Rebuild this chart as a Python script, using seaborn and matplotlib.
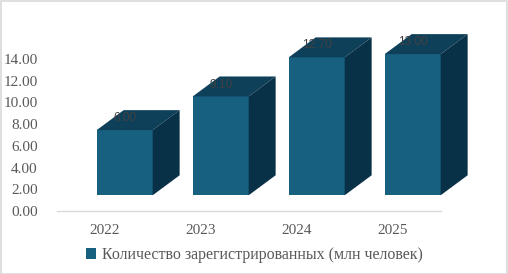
import seaborn as sns
import pandas as pd
import matplotlib.pyplot as plt
from matplotlib.patches import Polygon, Patch, Rectangle

# Data
years = ['2022', '2023', '2024', '2025']
registered = [6.00, 9.10, 12.70, 13.00]
series_name = 'Количество зарегистрированных (млн человек)'

df = pd.DataFrame({'Year': years, 'Value': registered})

# 3D look colours
front_color = '#17607F'
top_color = '#0E405A'
side_color = '#083046'
text_color = '#595959'

sns.set_style('white')
plt.rcParams['font.family'] = ['Liberation Serif', 'DejaVu Serif']

fig = plt.figure(figsize=(5.08, 2.74), dpi=100)
ax = fig.add_axes([0.1122, 0.2299, 0.7559, 0.7664])

floor = 1.45     # bars float above the floor like in Excel 3D
dx, dy = 0.281, 1.84

sns.barplot(data=df, x='Year', y='Value', color=front_color, width=0.583,
            bottom=floor, saturation=1, linewidth=0, ax=ax, zorder=3)

for p in ax.patches[:len(years)]:
    x0 = p.get_x()
    x1 = x0 + p.get_width()
    y0 = p.get_y()
    y1 = y0 + p.get_height()
    top = Polygon([(x0, y1), (x1, y1), (x1 + dx, y1 + dy), (x0 + dx, y1 + dy)],
                  closed=True, facecolor=top_color, edgecolor='none', zorder=3,
                  clip_on=False)
    side = Polygon([(x1, y0), (x1 + dx, y0 + dy), (x1 + dx, y1 + dy), (x1, y1)],
                   closed=True, facecolor=side_color, edgecolor='none', zorder=3,
                   clip_on=False)
    ax.add_patch(top)
    ax.add_patch(side)
    ax.text(x0 + p.get_width() / 2, y1 + 1.1, f'{p.get_height():.2f}',
            ha='center', va='center', fontsize=8.6, color='#404040',
            family='Liberation Sans', zorder=4)

shift = 0.205
ax.set_xticks([i - shift for i in range(len(years))])
ax.set_xticklabels(years)
ax.set_xlim(-0.5 - shift, 3.5 - shift)
ax.set_ylim(0, 19.34)
ax.set_yticks([0, 2, 4, 6, 8, 10, 12, 14])
ax.set_yticklabels([f'{v:.2f}' for v in [0, 2, 4, 6, 8, 10, 12, 14]])
ax.tick_params(axis='y', length=0, pad=14, labelsize=11, labelcolor=text_color)
ax.tick_params(axis='x', length=0, pad=9, labelsize=11, labelcolor=text_color)
ax.set_xlabel('')
ax.set_ylabel('')

for s in ['top', 'right', 'left']:
    ax.spines[s].set_visible(False)
ax.spines['bottom'].set_color('#D9D9D9')
ax.spines['bottom'].set_linewidth(1)
ax.patch.set_alpha(0)

handle = Patch(facecolor=front_color, edgecolor='none')
fig.legend([handle], [series_name], loc='center', bbox_to_anchor=(0.5, 0.069),
           frameon=False, fontsize=11.5, handlelength=0.65, handleheight=0.65,
           handletextpad=0.35, labelcolor=text_color)

fig.add_artist(Rectangle((0.001, 0.001), 0.997, 0.996, transform=fig.transFigure,
                         fill=False, edgecolor='#D9D9D9', linewidth=1.2))

fig.savefig('out.png', dpi=100)
